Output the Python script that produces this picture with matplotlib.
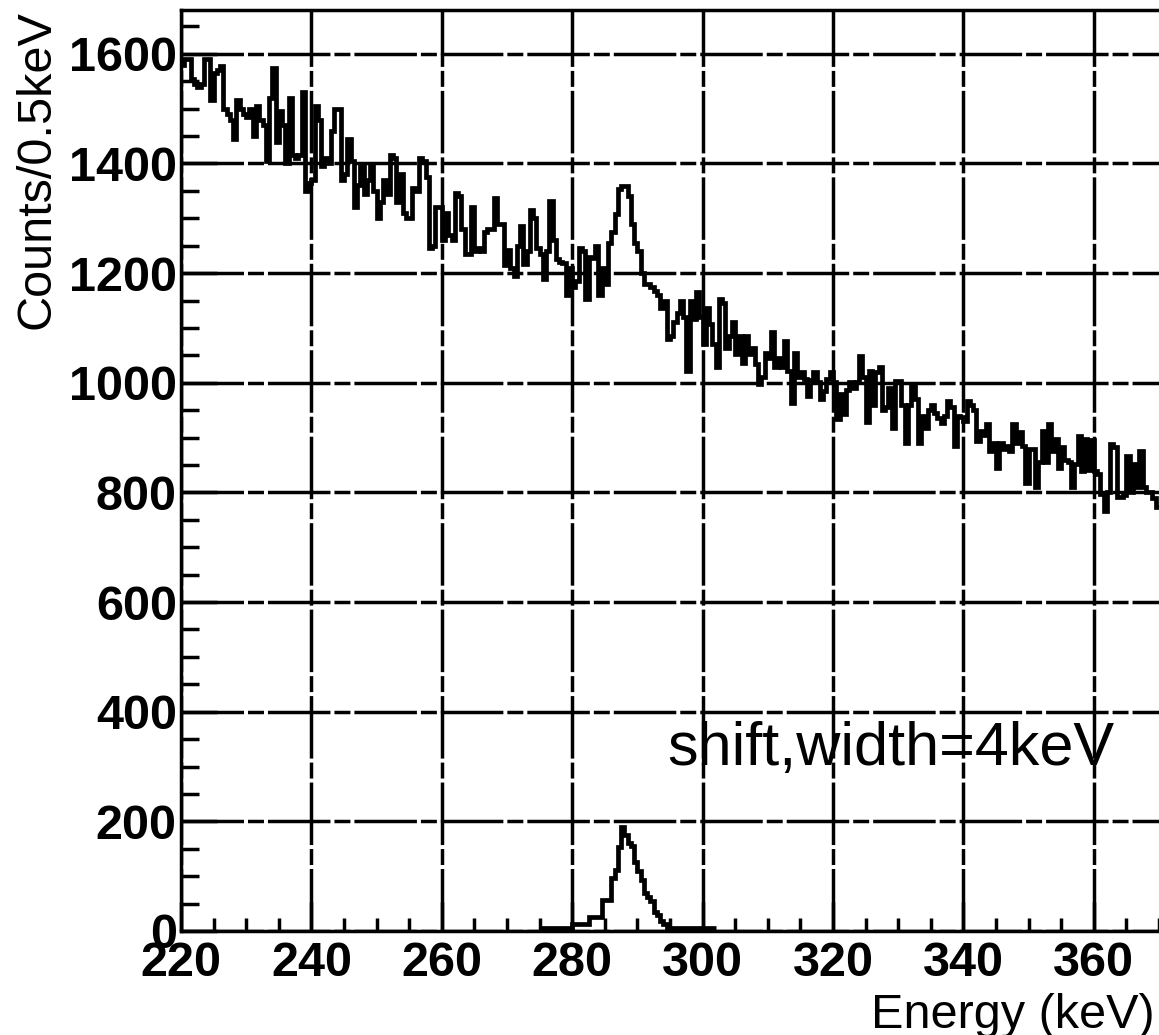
"""
Energy spectrum (ROOT-style histogram): measured counts with a shifted, 4 keV wide peak below
"""

import numpy as np
import matplotlib
matplotlib.use('Agg')
import matplotlib.pyplot as plt
from matplotlib.ticker import MultipleLocator

plt.rcParams['font.family'] = ['Liberation Sans', 'DejaVu Sans']

# histogram binning (keV)
E_LO = 220.0
BIN_W = 0.5

# measured spectrum, counts per 0.5 keV, bins from 220 keV up
counts = [
    1580, 1590, 1590, 1555, 1545, 1540, 1545, 1590, 1590, 1515,
    1565, 1570, 1577, 1500, 1490, 1480, 1445, 1515, 1500, 1490,
    1485, 1500, 1450, 1505, 1480, 1470, 1405, 1520, 1575, 1440,
    1495, 1470, 1400, 1520, 1415, 1410, 1415, 1530, 1350, 1365,
    1370, 1505, 1480, 1395, 1410, 1400, 1460, 1500, 1500, 1370,
    1380, 1445, 1405, 1320, 1360, 1395, 1345, 1370, 1395, 1350,
    1300, 1330, 1370, 1345, 1415, 1410, 1330, 1380, 1310, 1300,
    1300, 1355, 1350, 1410, 1405, 1375, 1245, 1250, 1320, 1320,
    1260, 1310, 1270, 1260, 1346, 1340, 1280, 1235, 1235, 1320,
    1240, 1245, 1240, 1275, 1280, 1280, 1337, 1290, 1290, 1215,
    1243, 1210, 1195, 1250, 1286, 1216, 1240, 1316, 1300, 1245,
    1235, 1189, 1240, 1331, 1260, 1225, 1220, 1218, 1160, 1210,
    1175, 1185, 1245, 1240, 1152, 1230, 1228, 1249, 1160, 1210,
    1180, 1255, 1275, 1307, 1353, 1359, 1359, 1340, 1290, 1255,
    1240, 1200, 1180, 1180, 1175, 1168, 1160, 1137, 1150, 1080,
    1085, 1110, 1128, 1150, 1120, 1022, 1150, 1116, 1165, 1120,
    1071, 1137, 1107, 1071, 1028, 1152, 1145, 1064, 1085, 1110,
    1052, 1086, 1037, 1086, 1052, 1064, 1034, 998, 1010, 1055,
    1046, 1092, 1028, 1046, 1028, 1077, 1022, 964, 1055, 1010,
    1019, 1007, 976, 1005, 1019, 1001, 970, 985, 1007, 1019,
    1001, 934, 980, 943, 986, 1001, 990, 1001, 1049, 1010,
    928, 1022, 960, 1020, 1028, 950, 955, 990, 918, 1003,
    1003, 960, 891, 960, 994, 970, 891, 940, 918, 950,
    960, 945, 935, 927, 940, 967, 955, 885, 940, 937,
    930, 967, 960, 950, 894, 912, 905, 925, 876, 890,
    845, 890, 880, 885, 875, 924, 890, 910, 885, 818,
    880, 880, 809, 855, 912, 855, 924, 876, 897, 845,
    882, 860, 855, 809, 852, 903, 839, 897, 840, 895,
    839, 833, 797, 767, 800, 888, 882, 791, 791, 795,
    867, 800, 852, 809, 876, 809, 800, 800, 790, 773,
]

# simulated peak (shift, width = 4 keV), bins from 275 keV up
PEAK_LO = 275.0
peak = [
    6, 6, 6, 6, 6, 6, 6, 6, 6, 6,
    12, 12, 12, 12, 12, 25, 25, 25, 25, 56,
    56, 56, 96, 111, 154, 190, 175, 160, 155, 126,
    110, 93, 70, 62, 55, 35, 30, 18, 12, 5,
    5, 5, 5, 5, 5, 5, 5, 5, 5, 5,
    5, 5, 5, 5,
]

x_ticks = [220, 240, 260, 280, 300, 320, 340, 360]
y_ticks = [0, 200, 400, 600, 800, 1000, 1200, 1400, 1600]

LW = 2.5
GRID_DASH = (0, (18, 1.15, 4.6, 1.15))


def main():
    fig = plt.figure(figsize=(11.59, 10.35), dpi=100)
    ax = fig.add_axes([181 / 1159, 104 / 1035, 978 / 1159, 921 / 1035])

    edges = E_LO + BIN_W * np.arange(len(counts) + 1)
    ax.stairs(counts, edges, baseline=None, color='black', lw=3.4, zorder=3)

    peak_edges = PEAK_LO + BIN_W * np.arange(len(peak) + 1)
    ax.stairs(peak, peak_edges, baseline=None, color='black', lw=3.4, zorder=3)

    ax.set_xlim(220, 370)
    ax.set_ylim(0, 1680)

    ax.set_xticks(x_ticks)
    ax.set_yticks(y_ticks)
    ax.xaxis.set_minor_locator(MultipleLocator(5))
    ax.yaxis.set_minor_locator(MultipleLocator(50))

    ax.grid(True, which='major', color='black', lw=LW, linestyle=GRID_DASH, zorder=1)
    ax.set_axisbelow(True)

    ax.tick_params(axis='x', which='major', direction='in', length=21, width=LW,
                   pad=7, labelsize=35)
    ax.tick_params(axis='x', which='minor', direction='in', length=9.5, width=LW)
    ax.tick_params(axis='y', which='major', direction='in', length=26, width=LW,
                   pad=3, labelsize=35)
    ax.tick_params(axis='y', which='minor', direction='in', length=13, width=LW)
    for lab in ax.get_xticklabels() + ax.get_yticklabels():
        lab.set_fontweight('bold')

    ax.spines['right'].set_visible(False)
    for s in ('left', 'bottom', 'top'):
        ax.spines[s].set_linewidth(LW)

    fig.text(37 / 1159, 1 - 10 / 1035, 'Counts/0.5keV', rotation=90,
             ha='center', va='top', fontsize=35)
    fig.text(1155 / 1159, 7 / 1035, 'Energy (keV)', ha='right', va='baseline',
             fontsize=35)

    ax.text((667 - 181) / 978, (931 - 765) / 921, 'shift,width=4keV',
            transform=ax.transAxes, ha='left', va='baseline', fontsize=44)

    fig.savefig('out.png', dpi=100)
    plt.close(fig)


if __name__ == "__main__":
    main()
